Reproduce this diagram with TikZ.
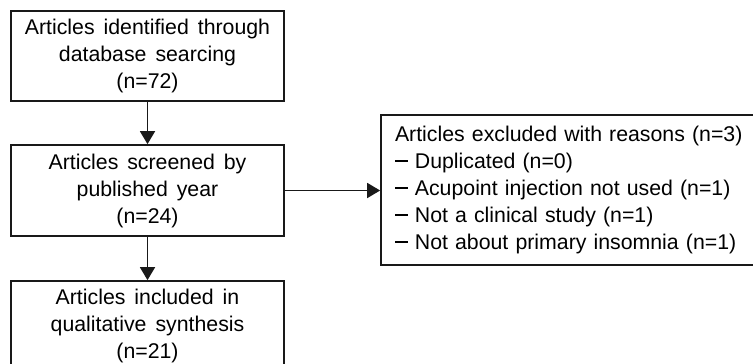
\documentclass[tikz,border=0pt]{standalone}
\usepackage{fontspec}
\setmainfont{Liberation Sans}
\usetikzlibrary{arrows.meta}
\newcommand\boxfont{\fontsize{21.3}{27}\selectfont\spaceskip=0.42em plus 0.1em minus 0.1em\relax}
\newcommand\exdash{\rule[0.3em]{0.6em}{0.08em}}
\begin{document}
\begin{tikzpicture}[x=1pt,y=-1pt,
  box/.style={draw=black!90,line width=1.7pt,align=center,inner sep=0pt,font=\boxfont},
  arr/.style={line width=1.6pt,draw=black!90,-{Triangle[width=15pt,length=13pt]}}]
\useasboundingbox (0,0) rectangle (753,364);
\clip (0,0) rectangle (753,364);
\node[box,minimum width=273pt,minimum height=90pt] (b1) at (147.5,56)
  {Articles identified through\\database searcing\\(n=72)};
\node[box,minimum width=273pt,minimum height=91pt] (b2) at (147.5,190.5)
  {Articles screened by\\published year\\(n=24)};
\node[box,minimum width=273pt,minimum height=90pt] (b3) at (147.5,326)
  {Articles included in\\qualitative synthesis\\(n=21)};
\node[box,align=left,text width=352pt,inner xsep=14pt,minimum height=150pt] (ex) at (571,190)
  {Articles excluded with reasons (n=3)\\
   \exdash{} Duplicated (n=0)\\
   \exdash{} Acupoint injection not used (n=1)\\
   \exdash{} Not a clinical study (n=1)\\
   \exdash{} Not about primary insomnia (n=1)};
\draw[arr] (b1) -- (b2);
\draw[arr] (b2) -- (b3);
\draw[arr] (b2.east) -- (ex.west |- b2.east);
\end{tikzpicture}
\end{document}
